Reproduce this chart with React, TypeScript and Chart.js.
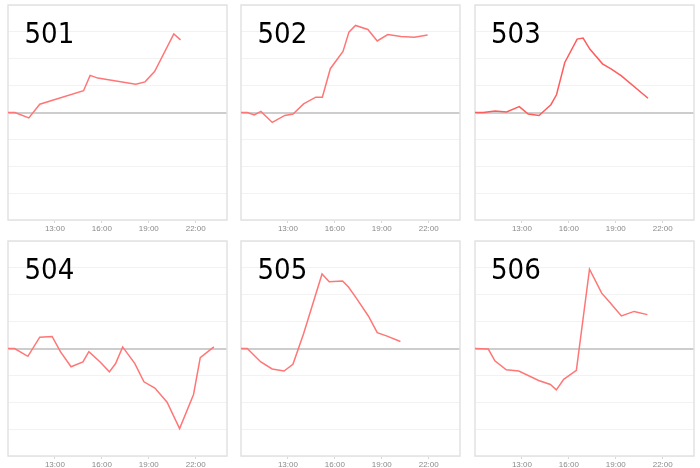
import React, { useEffect, useRef } from "react";
import { Chart, registerables } from "chart.js";

Chart.register(...registerables);

// ---- data ----
const panelNames = ["501", "502", "503", "504", "505", "506"];
const tickHours = [13, 16, 19, 22];
const xMin = 10;
const xMax = 24;
const yMin = -4;
const yMax = 4;

const hours501 = [10.0, 10.44, 11.33, 12.03, 14.83, 15.25, 15.74, 18.17, 18.76, 19.38, 20.6, 21.03];
const values501 = [0, 0, -0.2, 0.31, 0.81, 1.38, 1.28, 1.05, 1.14, 1.53, 2.92, 2.7];

const hours502 = [10.0, 10.4, 10.85, 11.27, 12.0, 12.8, 13.33, 14.0, 14.78, 15.2, 15.71, 16.52, 16.9, 17.32, 18.11, 18.71, 19.38, 20.23, 21.08, 21.93];
const values502 = [0, 0, -0.09, 0.04, -0.37, -0.11, -0.06, 0.32, 0.57, 0.57, 1.63, 2.27, 2.99, 3.24, 3.09, 2.66, 2.9, 2.83, 2.8, 2.88];

const hours503 = [10.0, 10.53, 11.28, 12.02, 12.83, 13.4, 14.09, 14.85, 15.21, 15.74, 16.53, 16.91, 17.34, 18.15, 18.72, 19.36, 21.06];
const values503 = [0, 0, 0.06, 0.02, 0.22, -0.06, -0.11, 0.29, 0.66, 1.86, 2.73, 2.77, 2.36, 1.81, 1.61, 1.36, 0.53];

const hours504 = [10.0, 10.42, 11.27, 12.03, 12.82, 13.35, 14.03, 14.79, 15.17, 15.89, 16.48, 16.88, 17.33, 18.11, 18.69, 19.39, 20.17, 20.97, 21.86, 22.29, 23.16];
const values504 = [0, 0, -0.29, 0.42, 0.45, -0.12, -0.68, -0.5, -0.12, -0.5, -0.87, -0.56, 0.06, -0.56, -1.24, -1.47, -2.0, -2.98, -1.71, -0.34, 0.06];

const hours505 = [10.0, 10.4, 11.27, 11.99, 12.75, 13.32, 14.0, 15.18, 15.64, 16.49, 16.87, 17.34, 18.14, 18.71, 19.34, 20.19];
const values505 = [0, 0, -0.5, -0.76, -0.84, -0.59, 0.55, 2.77, 2.48, 2.51, 2.29, 1.9, 1.21, 0.59, 0.46, 0.26];

const hours506 = [10.0, 10.85, 11.27, 12.0, 12.8, 14.07, 14.82, 15.2, 15.67, 16.48, 17.32, 18.1, 18.57, 19.36, 20.17, 21.02];
const values506 = [0, -0.02, -0.46, -0.79, -0.84, -1.19, -1.34, -1.54, -1.15, -0.81, 2.95, 2.06, 1.75, 1.21, 1.38, 1.26];

const allHours = [hours501, hours502, hours503, hours504, hours505, hours506];
const allValues = [values501, values502, values503, values504, values505, values506];

// ---- layout / style ----
const colLefts = [8, 241, 474.5];
const rowTops = [5, 240.5];
const plotW = 219;
const plotH = 215;
const pad = 2;
const xAxisH = 16;
const lineColors = ["#ff7676", "#ff7676", "#ff5c5c", "#ff7676", "#ff7676", "#ff7676"];

const boxBorder = {
  id: "boxBorder",
  beforeDatasetsDraw(chart: any) {
    const { ctx, chartArea } = chart;
    const { left, top, right, bottom } = chartArea;
    ctx.save();
    ctx.strokeStyle = "#e2e2e2";
    ctx.lineWidth = 1.5;
    ctx.strokeRect(left, top, right - left, bottom - top);
    ctx.restore();
  },
};

function Panel({ idx }: { idx: number }) {
  const ref = useRef<HTMLCanvasElement | null>(null);
  const col = idx % 3;
  const row = Math.floor(idx / 3);
  const left = colLefts[col];
  const top = rowTops[row];

  useEffect(() => {
    if (!ref.current) return;
    const hours = allHours[idx];
    const values = allValues[idx];
    const chart = new Chart(ref.current, {
      type: "line",
      data: {
        datasets: [
          {
            data: hours.map((h, i) => ({ x: h, y: values[i] })),
            borderColor: lineColors[idx],
            borderWidth: 1.5,
            pointRadius: 0,
            tension: 0,
            fill: false,
          },
        ],
      },
      options: {
        responsive: false,
        animation: false,
        layout: { padding: { left: pad, right: pad, top: pad, bottom: 0 } },
        plugins: { legend: { display: false }, tooltip: { enabled: false }, title: { display: false } },
        scales: {
          x: {
            type: "linear",
            min: xMin,
            max: xMax,
            afterBuildTicks: (scale: any) => {
              scale.ticks = tickHours.map((v) => ({ value: v }));
            },
            afterFit: (scale: any) => {
              scale.height = xAxisH;
            },
            grid: { display: true, drawOnChartArea: false, drawTicks: true, tickLength: 3, color: "#d8d8d8" },
            border: { display: false },
            ticks: {
              autoSkip: false,
              maxRotation: 0,
              padding: 1,
              color: "#8a8a8a",
              font: { family: "'Liberation Sans', Arial, sans-serif", size: 8 },
              callback: (v: any) => `${v}:00`,
            },
          },
          y: {
            min: yMin,
            max: yMax,
            afterFit: (scale: any) => {
              scale.width = 0;
            },
            ticks: { display: false, stepSize: 1 },
            border: { display: false },
            grid: {
              drawTicks: false,
              color: (c: any) => (c.tick && c.tick.value === 0 ? "#cdcdcd" : "#f2f2f2"),
              lineWidth: (c: any) => (c.tick && c.tick.value === 0 ? 2 : 1),
            },
          },
        },
      },
      plugins: [boxBorder],
    });
    return () => chart.destroy();
  }, [idx]);

  return (
    <div style={{ position: "absolute", left: left - pad, top: top - pad }}>
      <canvas ref={ref} width={plotW + 2 * pad} height={plotH + pad + xAxisH} />
      <div
        style={{
          position: "absolute",
          left: pad + 16.5,
          top: pad + 14,
          fontFamily: "'DejaVu Sans Condensed', 'DejaVu Sans', sans-serif",
          fontStretch: "condensed",
          fontSize: 29,
          lineHeight: "29px",
          color: "#000",
          pointerEvents: "none",
        }}
      >
        {panelNames[idx]}
      </div>
    </div>
  );
}

export default function App() {
  return (
    <div>
      {panelNames.map((_, i) => (
        <Panel key={i} idx={i} />
      ))}
    </div>
  );
}
